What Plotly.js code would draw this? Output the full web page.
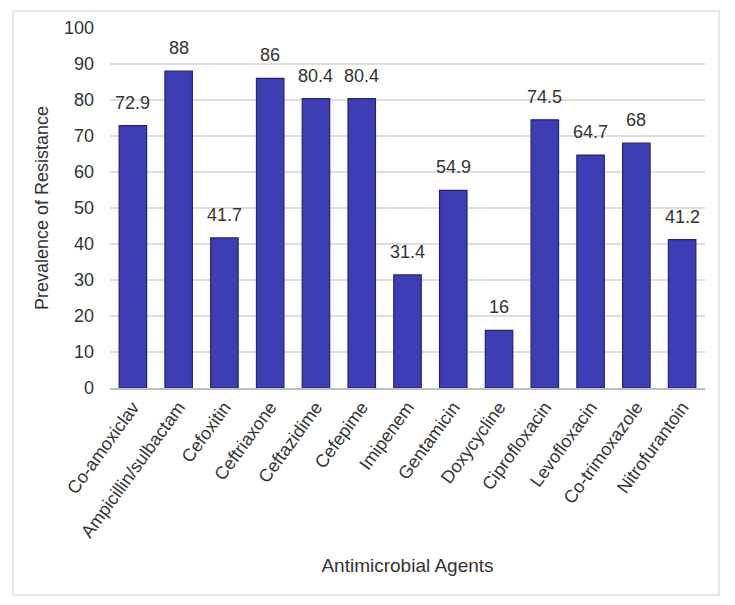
<!DOCTYPE html>
<html><head><meta charset="utf-8">
<script src="https://cdn.plot.ly/plotly-3.0.1.min.js"></script>
<style>
html,body{margin:0;padding:0;background:#fff;}
#wrap{position:relative;width:735px;height:605px;}
#chart{width:735px;height:605px;}
#frame{position:absolute;left:12px;top:10px;width:708px;height:586px;border:2px solid #e6e6e6;pointer-events:none;box-sizing:border-box;}
</style></head>
<body>
<div id="wrap"><div id="chart"></div><div id="frame"></div></div>
<script>
const agents = ["Co-amoxiclav","Ampicillin/sulbactam","Cefoxitin","Ceftriaxone","Ceftazidime","Cefepime","Imipenem","Gentamicin","Doxycycline","Ciprofloxacin","Levofloxacin","Co-trimoxazole","Nitrofurantoin"];
const resistance = [72.9, 88, 41.7, 86, 80.4, 80.4, 31.4, 54.9, 16, 74.5, 64.7, 68, 41.2];
const yTicks = [0,10,20,30,40,50,60,70,80,90,100];

const FONT = 'Liberation Sans, Arial, sans-serif';
const trace = {
  type:'bar', x:agents, y:resistance,
  marker:{color:'#3e3eb4', line:{color:'#22227a', width:1.2}},
  hoverinfo:'skip'
};
const valueLabels = agents.map((a,i)=>({
  x:a, y:resistance[i], xref:'x', yref:'y',
  text:String(resistance[i]), showarrow:false,
  yanchor:'bottom', yshift:11,
  font:{family:FONT, size:18, color:'#333'}
}));
const layout = {
  width:735, height:605,
  margin:{l:110, r:30, t:28, b:217},
  paper_bgcolor:'#fff', plot_bgcolor:'#fff',
  bargap:0.4,
  showlegend:false,
  font:{family:FONT, color:'#333'},
  annotations:valueLabels,
  xaxis:{
    tickangle:-54, tickfont:{size:18, color:'#333'},
    showgrid:false, showline:true, linecolor:'#bdbdbd', linewidth:1.5, ticks:'',
    title:{text:'Antimicrobial Agents', font:{size:19, color:'#333'}, standoff:18}
  },
  yaxis:{
    range:[0,100], tickvals:yTicks, ticktext:yTicks.map(String),
    tickfont:{size:18, color:'#333'}, ticks:'', ticklabelstandoff:15,
    gridcolor:'#dedede', gridwidth:1.5, zeroline:false,
    title:{text:'Prevalence of Resistance', font:{size:18, color:'#333'}, standoff:10}
  }
};
Plotly.newPlot('chart',[trace],layout,{displayModeBar:false, staticPlot:true});
</script>
</body></html>
